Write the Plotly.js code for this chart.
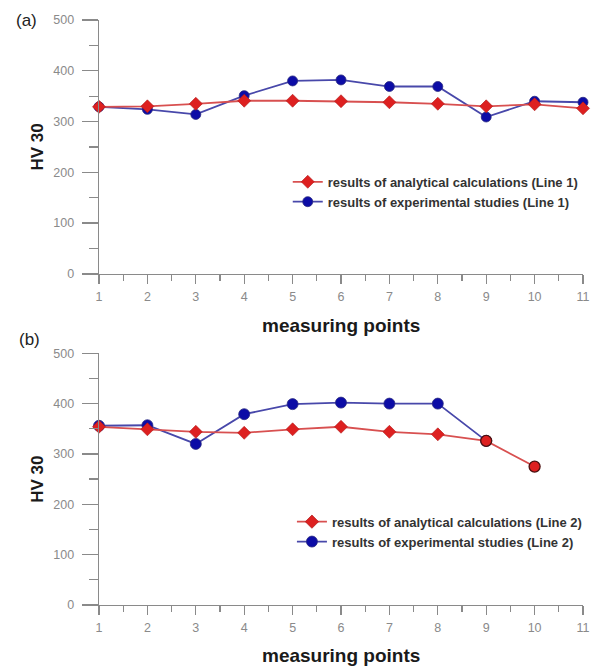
<!DOCTYPE html>
<html>
<head>
<meta charset="utf-8">
<script src="https://cdn.plot.ly/plotly-3.0.1.min.js"></script>
<style>html,body{margin:0;padding:0;background:#fff}#chart{width:597px;height:667px}</style>
</head>
<body>
<div id="chart"></div>
<script>
// ---- data ----
const pointsA = [1,2,3,4,5,6,7,8,9,10,11];
const analyticalA = [329,330,335,341,341,340,338,335,330,334,326];
const experimentalA = [329,324,314,351,380,382,369,369,309,340,338];

const pointsAnalyticalB = [1,2,3,4,5,6,7,8,9,10];
const analyticalB = [354,349,344,342,349,354,344,339,326,275];
const pointsExperimentalB = [1,2,3,4,5,6,7,8,9];
const experimentalB = [356,357,320,379,399,402,400,400,326];

const nameAnalyticalA = "results of analytical calculations (Line 1)";
const nameExperimentalA = "results of experimental studies (Line 1)";
const nameAnalyticalB = "results of analytical calculations (Line 2)";
const nameExperimentalB = "results of experimental studies (Line 2)";

const xTitle = "measuring points";
const yTitle = "HV 30";

// ---- styles ----
const RED = "#dd2020", RED_LINE = "#d85050";
const BLUE = "#0c0ca6", BLUE_LINE = "#4848aa";
const AX = "#8a8a8a";

const traces = [
  {x: pointsA, y: experimentalA, name: nameExperimentalA, xaxis:"x", yaxis:"y", legend:"legend",
   mode:"lines+markers", cliponaxis:false, legendrank:2,
   line:{color:BLUE_LINE, width:1.8},
   marker:{symbol:"circle", size:10, opacity:1, color:BLUE, line:{color:"#2a2a80", width:0.8}}},
  {x: pointsA, y: analyticalA, name: nameAnalyticalA, xaxis:"x", yaxis:"y", legend:"legend",
   mode:"lines+markers", cliponaxis:false, legendrank:1,
   line:{color:RED_LINE, width:1.8},
   marker:{symbol:"diamond", size:10, opacity:1, color:RED, line:{color:"#b01818", width:0.6}}},
  {x: pointsExperimentalB, y: experimentalB, name: nameExperimentalB, xaxis:"x2", yaxis:"y2", legend:"legend2",
   mode:"lines+markers", cliponaxis:false, legendrank:2,
   line:{color:BLUE_LINE, width:1.8},
   marker:{symbol:"circle", size:11, opacity:1, color:BLUE, line:{color:"#2a2a80", width:0.8}}},
  {x: pointsAnalyticalB, y: analyticalB, name: nameAnalyticalB, xaxis:"x2", yaxis:"y2", legend:"legend2",
   mode:"lines+markers", cliponaxis:false, legendrank:1,
   line:{color:RED_LINE, width:1.8},
   marker:{symbol:pointsAnalyticalB.map((p,i)=> i>=8 ? "circle" : "diamond"),
           size:pointsAnalyticalB.map((p,i)=> i>=8 ? 11 : 10),
           opacity:1, color:RED,
           line:{color:pointsAnalyticalB.map((p,i)=> i>=8 ? "#4a1010" : "#b01818"),
                 width:pointsAnalyticalB.map((p,i)=> i>=8 ? 1.3 : 0.6)}}}
];

const tickFont = {family:"Liberation Sans, Arial, sans-serif", size:12.5, color:"#8a8a8a"};
function xAxis(anchor){
  return {anchor, range:[1,11], tickmode:"linear", tick0:1, dtick:1, ticks:"outside", ticklen:9, tickwidth:1.3,
    tickcolor:AX, showline:true, linecolor:AX, linewidth:1.3, showgrid:false,
    zeroline:false, tickfont:tickFont, ticklabelstandoff:2, automargin:false,
    minor:{dtick:0.5, ticks:"outside", ticklen:6, tickwidth:1.3, tickcolor:AX, showgrid:false}};
}
function yAxis(anchor, domain){
  return {anchor, domain, range:[0,500], tickmode:"linear", tick0:0, dtick:100, ticks:"outside", ticklen:16, tickwidth:1.3,
    tickcolor:AX, showline:true, linecolor:AX, linewidth:1.3, showgrid:false,
    zeroline:false, tickfont:tickFont, ticklabelstandoff:5, automargin:false,
    minor:{dtick:50, ticks:"outside", ticklen:9, tickwidth:1.3, tickcolor:AX, showgrid:false}};
}
const legendFont = {family:"Liberation Sans, Arial, sans-serif", size:13, color:"#333", weight:"bold"};
const titleFont = {family:"Liberation Sans, Arial, sans-serif", size:19, color:"#1a1a1a", weight:"bold"};
const yTitleFont = {family:"Liberation Sans, Arial, sans-serif", size:17, color:"#1a1a1a", weight:"bold"};
const panelFont = {family:"Liberation Sans, Arial, sans-serif", size:17, color:"#222"};

const layout = {
  width:597, height:667, paper_bgcolor:"#fff", plot_bgcolor:"#fff",
  margin:{l:99, r:14, t:20, b:62, autoexpand:false},
  showlegend:true,
  xaxis:xAxis("y"), yaxis:yAxis("x",[0.566,1]),
  xaxis2:xAxis("y2"), yaxis2:yAxis("x2",[0,0.4303]),
  legend:{xref:"container", x:0.482, y:0.749, xanchor:"left", yanchor:"top", bgcolor:"rgba(0,0,0,0)", font:legendFont, tracegroupgap:0, itemwidth:30},
  legend2:{xref:"container", x:0.489, y:0.168, xanchor:"left", yanchor:"top", bgcolor:"rgba(0,0,0,0)", font:legendFont, tracegroupgap:0, itemwidth:30},
  annotations:[
    {text:"(a)", xref:"paper", yref:"paper", x:-0.175, y:1.0, xanchor:"left", yanchor:"middle", showarrow:false, font:panelFont},
    {text:"(b)", xref:"paper", yref:"paper", x:-0.17, y:0.453, xanchor:"left", yanchor:"middle", showarrow:false, font:panelFont},
    {text:yTitle, xref:"paper", yref:"paper", x:-0.127, y:0.783, textangle:-90, xanchor:"center", yanchor:"middle", showarrow:false, font:yTitleFont},
    {text:yTitle, xref:"paper", yref:"paper", x:-0.127, y:0.215, textangle:-90, xanchor:"center", yanchor:"middle", showarrow:false, font:yTitleFont},
    {text:xTitle, xref:"paper", yref:"paper", x:0.5, y:0.478, xanchor:"center", yanchor:"middle", showarrow:false, font:titleFont},
    {text:xTitle, xref:"paper", yref:"paper", x:0.5, y:-0.087, xanchor:"center", yanchor:"middle", showarrow:false, font:titleFont}
  ]
};

Plotly.newPlot("chart", traces, layout, {displayModeBar:false, staticPlot:true});
</script>
</body>
</html>
